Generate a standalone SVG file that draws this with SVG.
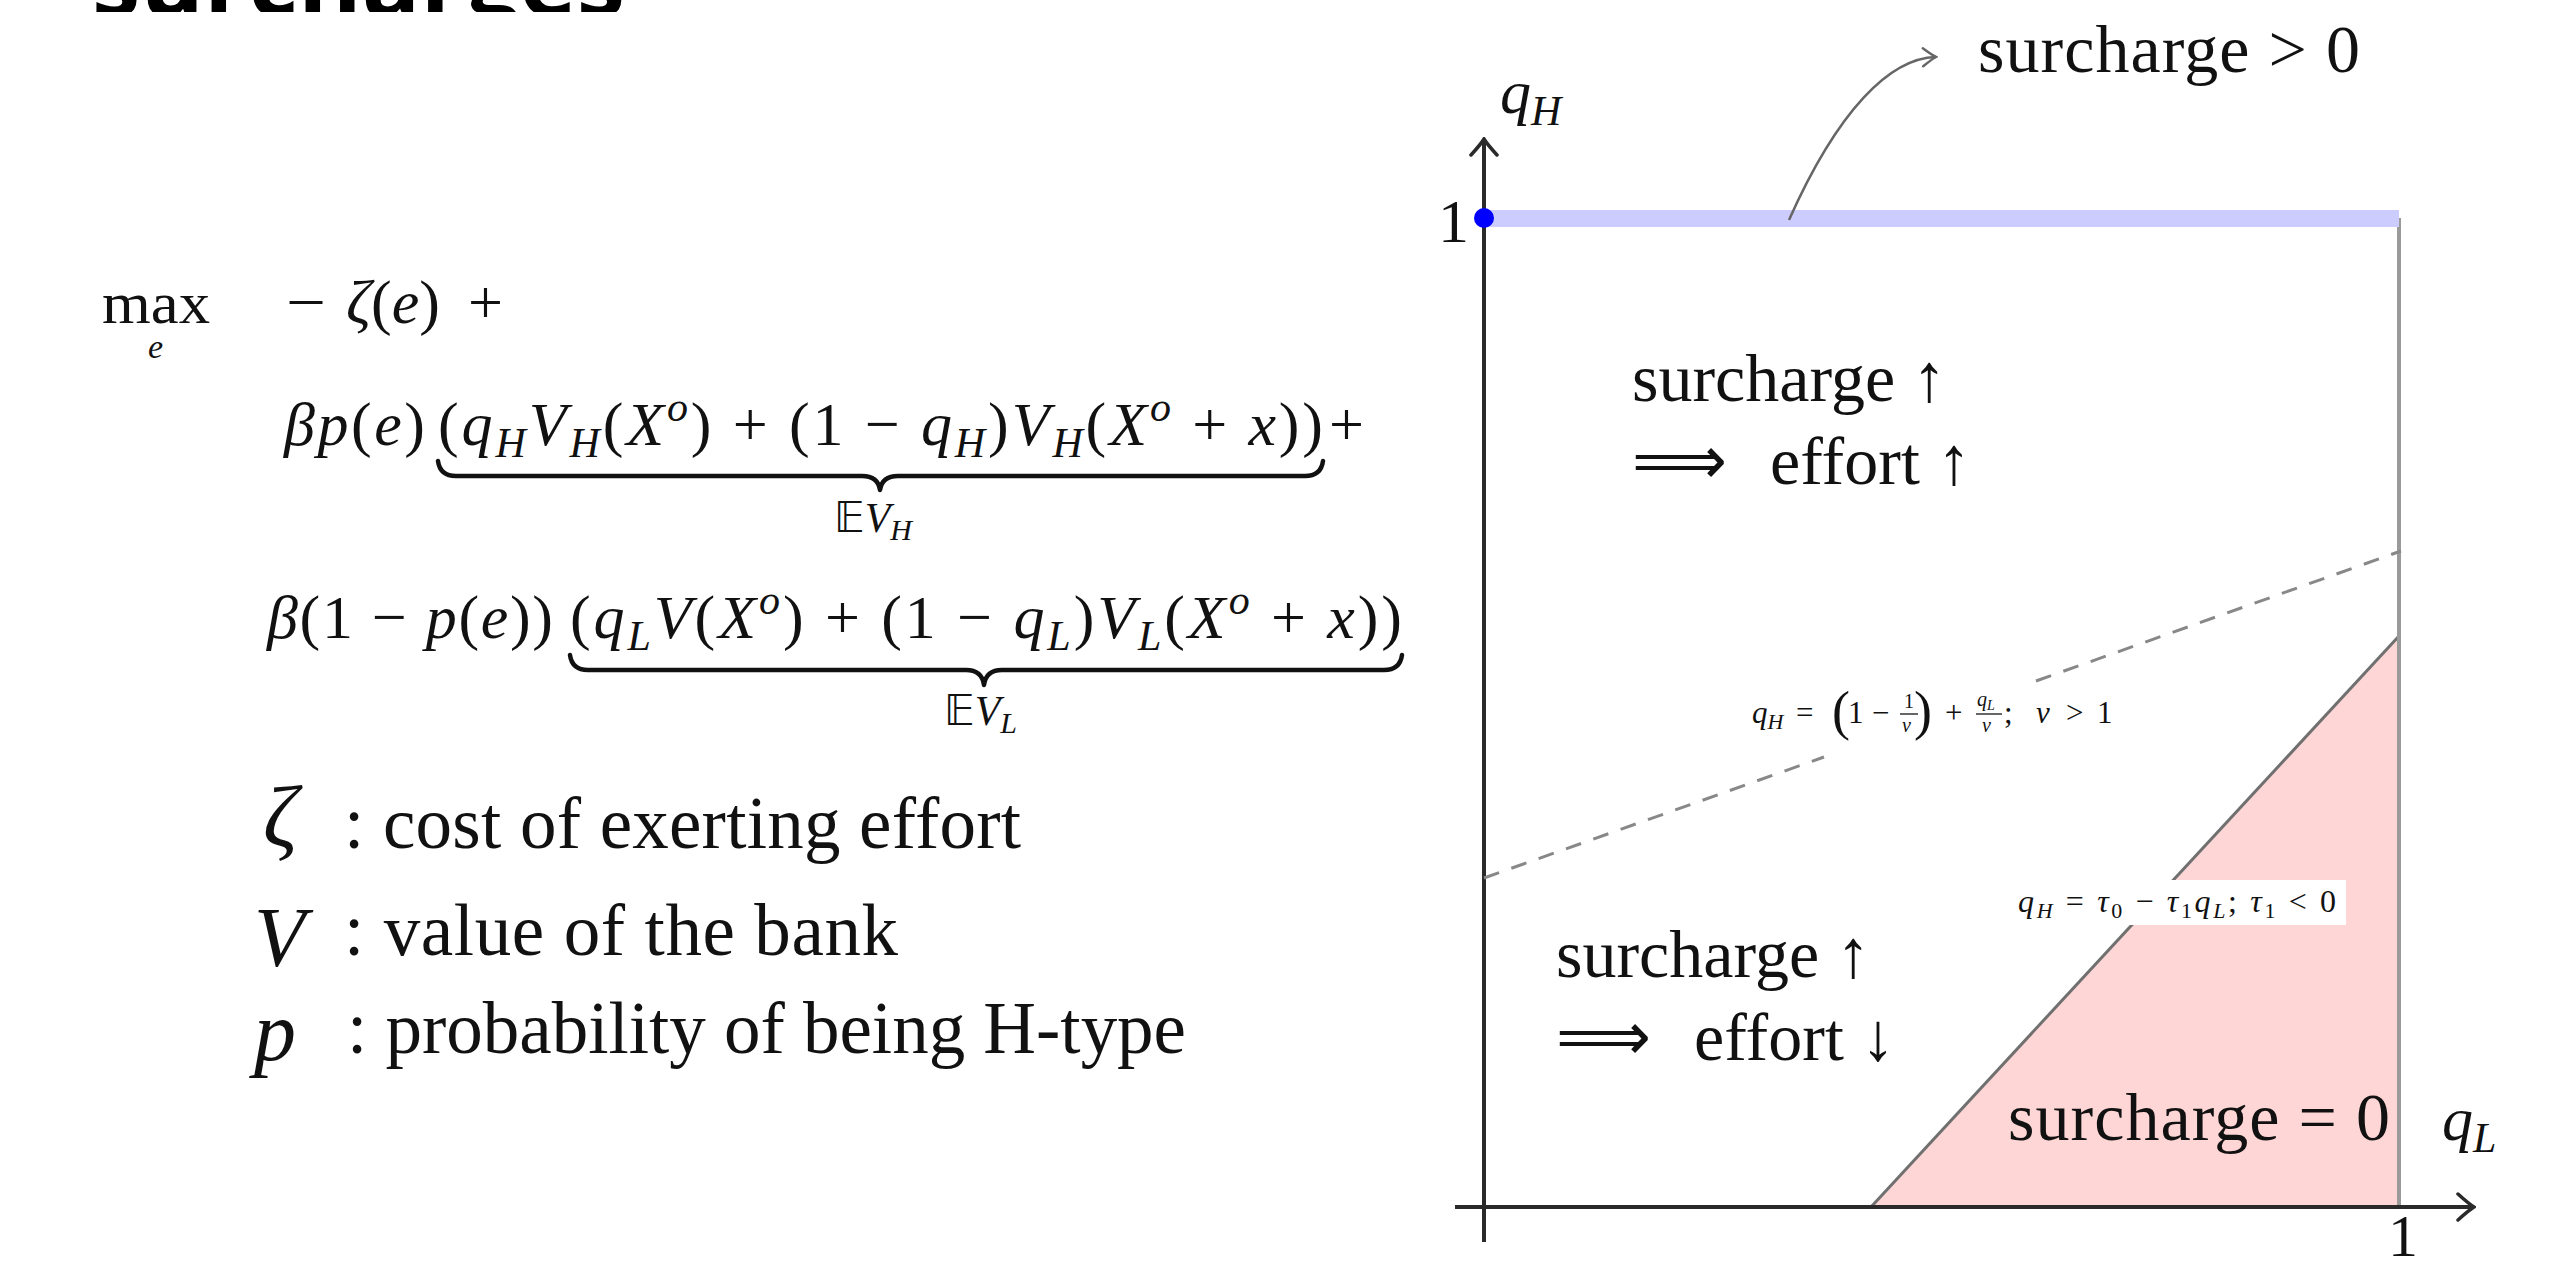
<svg xmlns="http://www.w3.org/2000/svg" width="2563" height="1261" viewBox="0 0 2563 1261">
<style>
text { font-family: "Liberation Serif", "DejaVu Serif", serif; fill: #111; }
.i { font-style: italic; }
.ttl { font-family: "Open Sans", "DejaVu Sans", sans-serif; font-weight: bold; fill: #000; }
.bb { font-family: "DejaVu Sans", "DejaVu Serif", sans-serif; font-style: normal; }
.arr { font-family: "DejaVu Sans", sans-serif; }
.axis { stroke: #2a2a2a; stroke-width: 4; fill: none; }
.brace { stroke: #111; stroke-width: 4.5; fill: none; stroke-linecap: round; stroke-linejoin: round; }
.dash { stroke: #888; stroke-width: 3; stroke-dasharray: 16 13; fill: none; }
</style>
<defs>
<clipPath id="titleclip"><rect x="0" y="0" width="800" height="12"/></clipPath>
<marker id="axtip" viewBox="-18 -15 20 30" markerWidth="20" markerHeight="30" refX="0" refY="0" orient="auto" markerUnits="userSpaceOnUse">
<path d="M-16,-13 Q-5,-3 0,0 Q-5,3 -16,13" fill="none" stroke="#2a2a2a" stroke-width="3.5" stroke-linecap="round"/>
</marker>
<marker id="grtip" viewBox="-16 -12 18 24" markerWidth="18" markerHeight="24" refX="0" refY="0" orient="auto" markerUnits="userSpaceOnUse">
<path d="M-13,-9 Q-4,-2 0,0 Q-4,2 -13,9" fill="none" stroke="#666" stroke-width="2.5" stroke-linecap="round"/>
</marker>
</defs>
<rect x="0" y="0" width="2563" height="1261" fill="#fff"/>

<g id="title" clip-path="url(#titleclip)">
<text class="ttl" x="92" y="16" font-size="96" textLength="533" lengthAdjust="spacingAndGlyphs">surcharges</text>
</g>

<g id="objective">
<text x="102" y="323" font-size="60" textLength="108" lengthAdjust="spacingAndGlyphs">max</text>
<text class="i" x="148" y="358" font-size="34">e</text>
<text y="323" font-size="62"><tspan x="286" textLength="40" lengthAdjust="spacingAndGlyphs">−</tspan><tspan x="346" class="i">ζ</tspan>(<tspan class="i">e</tspan>)<tspan x="468">+</tspan></text>

<text x="284" y="445" font-size="62" textLength="141" lengthAdjust="spacing"><tspan class="i">βp</tspan>(<tspan class="i">e</tspan>)</text>
<text x="438" y="445" font-size="62" textLength="885" lengthAdjust="spacing">(<tspan class="i">q</tspan><tspan class="i" font-size="42" dy="12">H</tspan><tspan class="i" dy="-12">V</tspan><tspan class="i" font-size="42" dy="12">H</tspan><tspan dy="-12">(</tspan><tspan class="i">X</tspan><tspan class="i" font-size="42" dy="-24">o</tspan><tspan dy="24">) + (1 − </tspan><tspan class="i">q</tspan><tspan class="i" font-size="42" dy="12">H</tspan><tspan dy="-12">)</tspan><tspan class="i">V</tspan><tspan class="i" font-size="42" dy="12">H</tspan><tspan dy="-12">(</tspan><tspan class="i">X</tspan><tspan class="i" font-size="42" dy="-24">o</tspan><tspan dy="24"> + </tspan><tspan class="i">x</tspan>))</text>
<text x="1329" y="445" font-size="62">+</text>
<path class="brace" d="M438,461 Q440,476 456,476 L862,476 Q878,476 880,490 Q882,476 898,476 L1305,476 Q1321,476 1323,461"/>
<text x="834" y="532" font-size="42"><tspan class="bb">𝔼</tspan><tspan class="i">V</tspan><tspan class="i" font-size="30" dy="8">H</tspan></text>

<text x="267" y="638" font-size="62" textLength="286" lengthAdjust="spacing"><tspan class="i">β</tspan>(1 − <tspan class="i">p</tspan>(<tspan class="i">e</tspan>))</text>
<text x="570" y="638" font-size="62" textLength="832" lengthAdjust="spacing">(<tspan class="i">q</tspan><tspan class="i" font-size="42" dy="12">L</tspan><tspan class="i" dy="-12">V</tspan>(<tspan class="i">X</tspan><tspan class="i" font-size="42" dy="-24">o</tspan><tspan dy="24">) + (1 − </tspan><tspan class="i">q</tspan><tspan class="i" font-size="42" dy="12">L</tspan><tspan dy="-12">)</tspan><tspan class="i">V</tspan><tspan class="i" font-size="42" dy="12">L</tspan><tspan dy="-12">(</tspan><tspan class="i">X</tspan><tspan class="i" font-size="42" dy="-24">o</tspan><tspan dy="24"> + </tspan><tspan class="i">x</tspan>))</text>
<path class="brace" d="M570,655 Q572,670 588,670 L966,670 Q982,670 984,685 Q986,670 1002,670 L1384,670 Q1400,670 1402,655"/>
<text x="944" y="725" font-size="42"><tspan class="bb">𝔼</tspan><tspan class="i">V</tspan><tspan class="i" font-size="30" dy="8">L</tspan></text>
</g>

<g id="legend">
<text class="i" x="263" y="846" font-size="86">ζ</text>
<text x="344" y="848" font-size="73" textLength="677" lengthAdjust="spacing">: cost of exerting effort</text>
<text class="i" x="254" y="966" font-size="84">V</text>
<text x="344" y="955" font-size="73" textLength="554" lengthAdjust="spacing">: value of the bank</text>
<text class="i" x="254" y="1060" font-size="84">p</text>
<text x="347" y="1053" font-size="73" textLength="839" lengthAdjust="spacing">: probability of being H-type</text>
</g>

<g id="plot">
<g id="region-zero">
<polygon points="1871,1207 2399,636 2399,1207" fill="#ffd6d6"/>
<line x1="1871" y1="1207" x2="2399" y2="636" stroke="#707070" stroke-width="3"/>
</g>
<line id="right-edge" x1="2399" y1="218" x2="2399" y2="1207" stroke="#9a9a9a" stroke-width="4"/>
<line id="top-band" x1="1484" y1="218.5" x2="2399" y2="218.5" stroke="#ccccff" stroke-width="17"/>
<g id="axes">
<line class="axis" x1="1484" y1="1242" x2="1484" y2="139" marker-end="url(#axtip)"/>
<line class="axis" x1="1455" y1="1207" x2="2474" y2="1207" marker-end="url(#axtip)"/>
<circle cx="1484" cy="218" r="10" fill="#0000ff"/>
<text x="1438" y="242" font-size="62">1</text>
<text x="2388" y="1256" font-size="60">1</text>
<text x="1500" y="113" font-size="62"><tspan class="i">q</tspan><tspan class="i" font-size="42" dy="12">H</tspan></text>
<text x="2442" y="1140" font-size="62"><tspan class="i">q</tspan><tspan class="i" font-size="42" dy="12">L</tspan></text>
</g>

<g id="label-top">
<text x="1978" y="72" font-size="68" textLength="382" lengthAdjust="spacing">surcharge &gt; 0</text>
</g>
<g id="label-upper">
<text x="1632" y="401" font-size="68">surcharge ↑</text>
<text class="arr" x="1632" y="484" font-size="68" textLength="95" lengthAdjust="spacingAndGlyphs">⟹</text>
<text x="1770" y="484" font-size="68">effort ↑</text>
</g>
<g id="label-lower">
<text x="1556" y="977" font-size="68">surcharge ↑</text>
<text class="arr" x="1556" y="1060" font-size="68" textLength="95" lengthAdjust="spacingAndGlyphs">⟹</text>
<text x="1694" y="1060" font-size="68">effort ↓</text>
</g>
<g id="label-zero">
<text x="2008" y="1140" font-size="68" textLength="382" lengthAdjust="spacing">surcharge = 0</text>
</g>

<g id="boundary-dashed">
<line class="dash" x1="1484" y1="878" x2="1824" y2="757"/>
<line class="dash" x1="2036" y1="681" x2="2401" y2="551"/>
<text x="1752" y="723" font-size="31"><tspan class="i">q</tspan><tspan class="i" font-size="22" dy="6">H</tspan></text>
<text x="1796" y="723" font-size="31">=</text>
<text x="1832" y="729" font-size="54">(</text>
<text x="1848" y="723" font-size="31">1</text>
<text x="1872" y="723" font-size="31">−</text>
<text x="1904" y="708" font-size="20">1</text>
<line x1="1900" y1="714" x2="1918" y2="714" stroke="#333" stroke-width="1.5"/>
<text class="i" x="1902" y="732" font-size="20">ν</text>
<text x="1914" y="729" font-size="54">)</text>
<text x="1945" y="723" font-size="31">+</text>
<text x="1977" y="706" font-size="20"><tspan class="i">q</tspan><tspan class="i" font-size="14" dy="4">L</tspan></text>
<line x1="1976" y1="714" x2="2002" y2="714" stroke="#333" stroke-width="1.5"/>
<text class="i" x="1982" y="732" font-size="20">ν</text>
<text x="2004" y="723" font-size="31">;</text>
<text class="i" x="2036" y="723" font-size="31">ν</text>
<text x="2066" y="723" font-size="31">&gt;</text>
<text x="2097" y="723" font-size="31">1</text>
</g>

<g id="boundary-solid-label">
<rect x="2010" y="880" width="336" height="45" fill="#fff"/>
<text x="2018" y="912" font-size="32" textLength="318" lengthAdjust="spacing"><tspan class="i">q</tspan><tspan class="i" font-size="22" dy="6">H</tspan><tspan dy="-6"> = </tspan><tspan class="i">τ</tspan><tspan font-size="22" dy="6">0</tspan><tspan dy="-6"> − </tspan><tspan class="i">τ</tspan><tspan font-size="22" dy="6">1</tspan><tspan class="i" dy="-6">q</tspan><tspan class="i" font-size="22" dy="6">L</tspan><tspan dy="-6">;  </tspan><tspan class="i">τ</tspan><tspan font-size="22" dy="6">1</tspan><tspan dy="-6"> &lt; 0</tspan></text>
</g>
</g>

<g id="connectors">
<path d="M1789,220 C1838,110 1890,58 1936,57" fill="none" stroke="#666" stroke-width="2.5" marker-end="url(#grtip)"/>
</g>
</svg>
